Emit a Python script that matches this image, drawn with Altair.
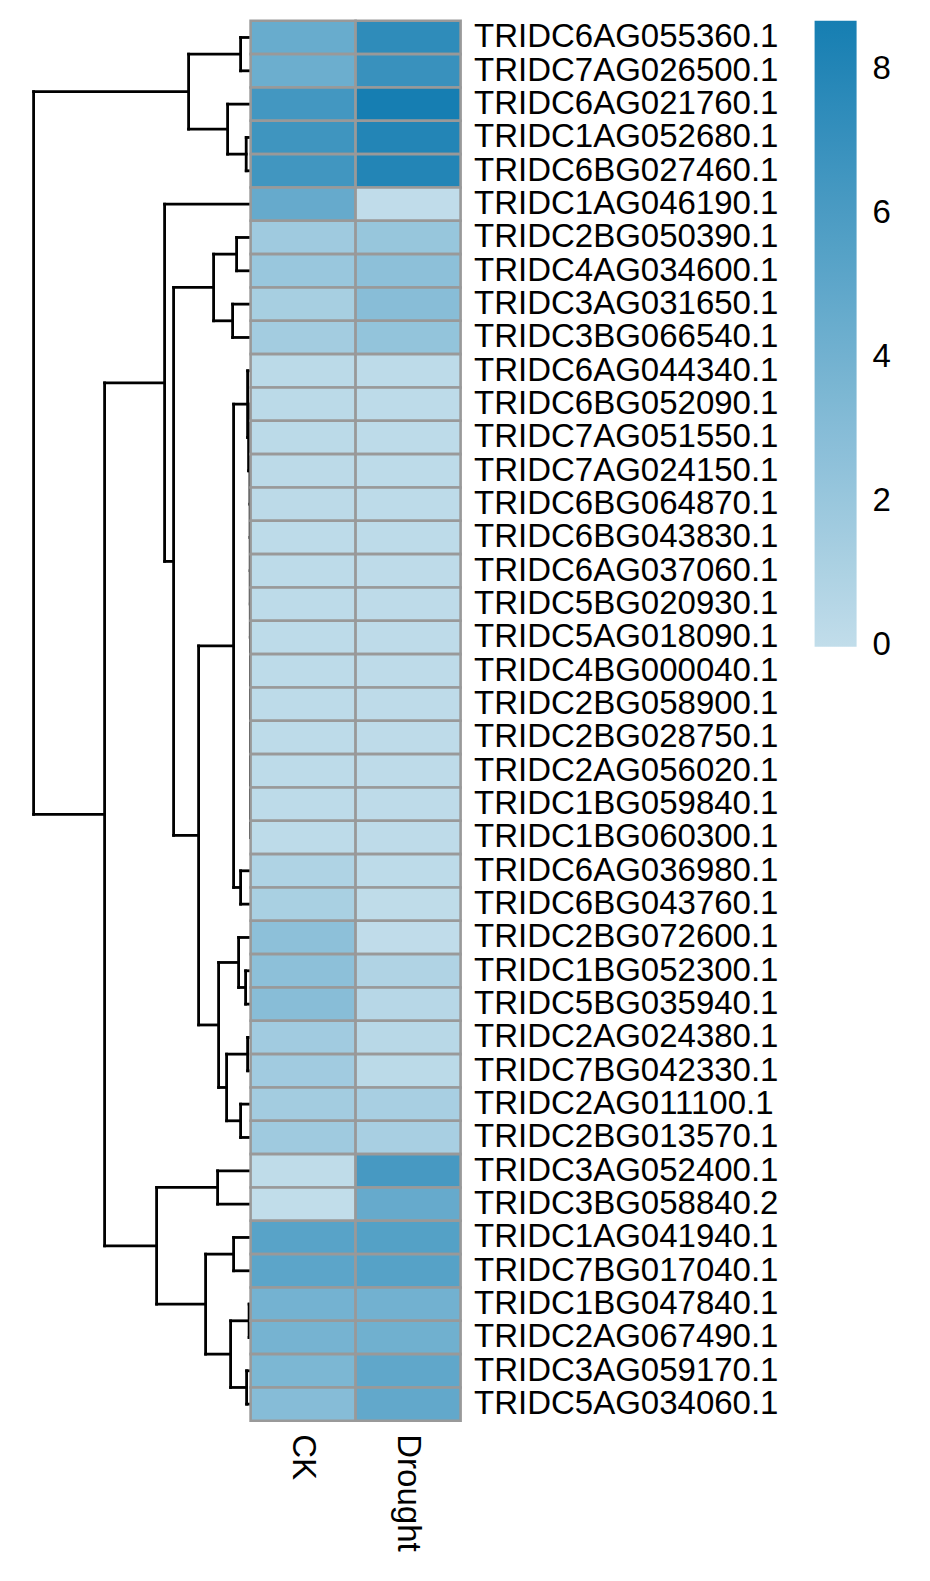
import altair as alt
import pandas as pd

genes = [
    "TRIDC6AG055360.1", "TRIDC7AG026500.1", "TRIDC6AG021760.1", "TRIDC1AG052680.1",
    "TRIDC6BG027460.1", "TRIDC1AG046190.1", "TRIDC2BG050390.1", "TRIDC4AG034600.1",
    "TRIDC3AG031650.1", "TRIDC3BG066540.1", "TRIDC6AG044340.1", "TRIDC6BG052090.1",
    "TRIDC7AG051550.1", "TRIDC7AG024150.1", "TRIDC6BG064870.1", "TRIDC6BG043830.1",
    "TRIDC6AG037060.1", "TRIDC5BG020930.1", "TRIDC5AG018090.1", "TRIDC4BG000040.1",
    "TRIDC2BG058900.1", "TRIDC2BG028750.1", "TRIDC2AG056020.1", "TRIDC1BG059840.1",
    "TRIDC1BG060300.1", "TRIDC6AG036980.1", "TRIDC6BG043760.1", "TRIDC2BG072600.1",
    "TRIDC1BG052300.1", "TRIDC5BG035940.1", "TRIDC2AG024380.1", "TRIDC7BG042330.1",
    "TRIDC2AG011100.1", "TRIDC2BG013570.1", "TRIDC3AG052400.1", "TRIDC3BG058840.2",
    "TRIDC1AG041940.1", "TRIDC7BG017040.1", "TRIDC1BG047840.1", "TRIDC2AG067490.1",
    "TRIDC3AG059170.1", "TRIDC5AG034060.1",
]
conditions = ["CK", "Drought"]

ck = [4.5, 4.3, 6.4, 6.6, 6.5, 4.6, 1.7, 2.0, 1.3, 1.5,
      0.3, 0.3, 0.3, 0.25, 0.25, 0.2, 0.2, 0.2, 0.2, 0.2, 0.2, 0.2, 0.2, 0.2, 0.2,
      0.9, 1.2, 2.6, 2.6, 2.9, 1.6, 1.6, 1.5, 1.7, 0.1, 0.0, 5.3, 5.1, 3.9, 3.8, 3.5, 3.0]
drought = [7.4, 6.9, 8.67, 8.0, 8.0, 0.05, 2.1, 2.6, 2.9, 2.3,
           0.2, 0.2, 0.2, 0.2, 0.2, 0.2, 0.15, 0.15, 0.15, 0.15, 0.15, 0.15, 0.15, 0.15, 0.15,
           0.2, 0.1, 0.05, 0.85, 0.5, 0.45, 0.3, 1.25, 1.25, 6.2, 4.6, 5.5, 5.4, 4.0, 4.1, 4.9, 4.8]

# hclust-style merges: negative = leaf (row number), positive = earlier merge index
merge_left = [-1, -4, -3, 1, -7, -9, 5,
              -24, -23, -22, -21, -20, -19, -18, -17, -16, -15, -14, -13, -12, -11,
              -26, 21, -29, -28, -31, -33, 26, 25, 23, 7, -6,
              -35, -37, -39, -41, 35, 34, 33, 32, 4]
merge_right = [-2, -5, 2, 3, -8, -10, 6,
               -25, 8, 9, 10, 11, 12, 13, 14, 15, 16, 17, 18, 19, 20,
               -27, 22, -30, 24, -32, -34, 27, 28, 29, 30, 31,
               -36, -38, -40, -42, 36, 37, 38, 39, 40]
merge_height = [10, 4.4, 23, 62, 14, 18, 37,
                0.2, 0.2, 0.2, 0.2, 0.2, 0.2, 0.2, 0.3, 0.3, 0.3, 0.4, 0.5, 2, 3,
                10, 17, 5, 12, 3, 10, 24, 32, 52, 77, 86,
                33, 17, 1.5, 4, 20, 45, 94, 146, 217]

n = len(genes)
node_y, node_h = {}, {}


def pos(ref):
    if ref < 0:
        return -ref - 0.5, 0.0
    return node_y[ref], node_h[ref]


segs = []
for k, (a, b, h) in enumerate(zip(merge_left, merge_right, merge_height), start=1):
    ya, ha = pos(a)
    yb, hb = pos(b)
    segs.append(dict(x=h, x2=h, y=ya, y2=yb))
    segs.append(dict(x=h, x2=ha, y=ya, y2=ya))
    segs.append(dict(x=h, x2=hb, y=yb, y2=yb))
    node_y[k] = (ya + yb) / 2
    node_h[k] = h

seg_df = pd.DataFrame(segs)
max_h = max(merge_height)

FONT = "Liberation Sans"
FS = 33
LW = 2.8

dendro = alt.Chart(seg_df).mark_rule(color="black", strokeWidth=LW, strokeCap="square").encode(
    x=alt.X("x:Q", scale=alt.Scale(domain=[0, max_h], reverse=True, nice=False, zero=False), axis=None),
    x2="x2:Q",
    y=alt.Y("y:Q", scale=alt.Scale(domain=[0, n], reverse=True, nice=False, zero=False), axis=None),
    y2="y2:Q",
).properties(width=217, height=1400)

heat_df = pd.DataFrame({
    "gene": genes * 2,
    "condition": ["CK"] * n + ["Drought"] * n,
    "value": ck + drought,
})
vals = ck + drought

heat = alt.Chart(heat_df).mark_rect(stroke="#999999", strokeWidth=2.6).encode(
    x=alt.X("condition:N", sort=conditions,
            scale=alt.Scale(paddingInner=0, paddingOuter=0),
            axis=alt.Axis(orient="bottom", labelAngle=90, ticks=False, domain=False, title=None,
                          labelFontSize=FS, labelPadding=13, labelFont=FONT, labelColor="black")),
    y=alt.Y("gene:N", sort=genes,
            scale=alt.Scale(paddingInner=0, paddingOuter=0),
            axis=alt.Axis(orient="right", ticks=False, domain=False, title=None,
                          labelFontSize=FS, labelPadding=13, labelFont=FONT, labelColor="black",
                          labelLimit=1000)),
    color=alt.Color("value:Q",
                    scale=alt.Scale(domain=[min(vals) - 0.02, max(vals)],
                                    range=["#C1DDEA", "#167EB2"],
                                    interpolate="rgb", nice=False),
                    legend=alt.Legend(title=None, orient="right", offset=36, gradientLength=626,
                                      gradientThickness=42, gradientStrokeWidth=0,
                                      values=[0, 2, 4, 6, 8], labelFontSize=FS, labelFont=FONT,
                                      labelColor="black", labelOffset=16, labelBaseline="middle",
                                      direction="vertical")),
).properties(width=210, height=1400)

chart = alt.hconcat(dendro, heat, spacing=0, bounds="flush").properties(
    padding={"left": 23.6, "top": 10.8, "right": 10, "bottom": 10}
).configure_view(strokeWidth=0)

chart.save("out.html", embed_options={"renderer": "svg", "actions": False})
